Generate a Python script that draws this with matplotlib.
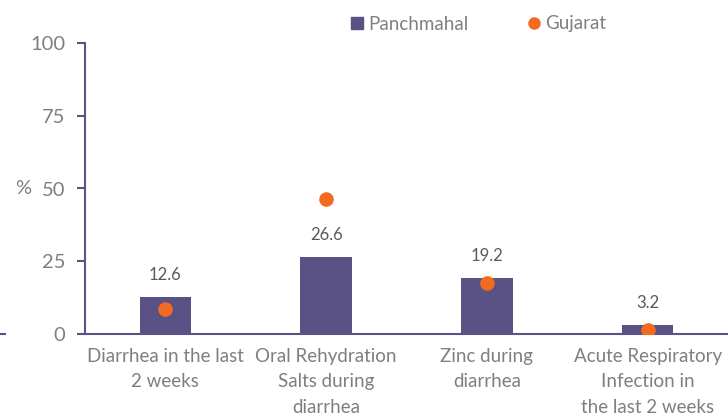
import matplotlib
matplotlib.use("Agg")
import matplotlib.pyplot as plt
from matplotlib.lines import Line2D

categories = ["Diarrhea in the last\n2 weeks", "Oral Rehydration\nSalts during\ndiarrhea",
              "Zinc during\ndiarrhea", "Acute Respiratory\nInfection in\nthe last 2 weeks"]
panchmahal = [12.6, 26.6, 19.2, 3.2]
gujarat = [8.6, 46.4, 17.5, 1.4]
yticks = [0, 25, 50, 75, 100]

bar_color = "#5A5184"
dot_color = "#F26B21"
axis_color = "#5B5289"
text_color = "#7F7F7F"

plt.rcParams['font.family'] = ['Lato', 'DejaVu Sans']

fig = plt.figure(figsize=(7.28, 4.19), dpi=100)
ax = fig.add_axes([85/728, 1-334/419, 1-85/728, (334-43)/419])
x = list(range(len(categories)))
ax.bar(x, panchmahal, width=0.32, color=bar_color, zorder=2)
ax.scatter(x, gujarat, s=90, color=dot_color, zorder=3)
for xi, v in zip(x, panchmahal):
    ax.annotate(f"{v}", (xi, v), xytext=(0, 10), textcoords="offset points",
                ha="center", va="bottom", fontsize=12, color="#595959")

ax.set_xlim(-0.5, 3.5)
ax.set_ylim(0, 100)
ax.set_yticks(yticks)
ax.set_xticks(x)
ax.set_xticklabels(categories, fontsize=13.5, color=text_color, linespacing=1.6)
ax.tick_params(axis='x', length=0, pad=10)
ax.tick_params(axis='y', length=6, width=1.5, color=axis_color, labelsize=14.5,
               labelcolor=text_color, pad=8)
for s in ["top", "right"]:
    ax.spines[s].set_visible(False)
for s in ["left", "bottom"]:
    ax.spines[s].set_color(axis_color)
    ax.spines[s].set_linewidth(1.5)

fig.text(23/728, 1-188/419, "%", fontsize=14.5, color=text_color, ha="center", va="center")
fig.add_artist(Line2D([0, 5/728], [1-334/419, 1-334/419], color=axis_color, lw=1.5))

handles = [Line2D([], [], marker='s', linestyle='none', color=bar_color, markersize=9),
           Line2D([], [], marker='o', linestyle='none', color=dot_color, markersize=8)]
fig.legend(handles, ["Panchmahal", "Gujarat"], loc="center", bbox_to_anchor=(477/728, 1-24/419),
           ncol=2, frameon=False, fontsize=13.5, labelcolor=text_color, handletextpad=0.1,
           columnspacing=3.0, handlelength=1.0)

fig.savefig("out.png", dpi=100)
